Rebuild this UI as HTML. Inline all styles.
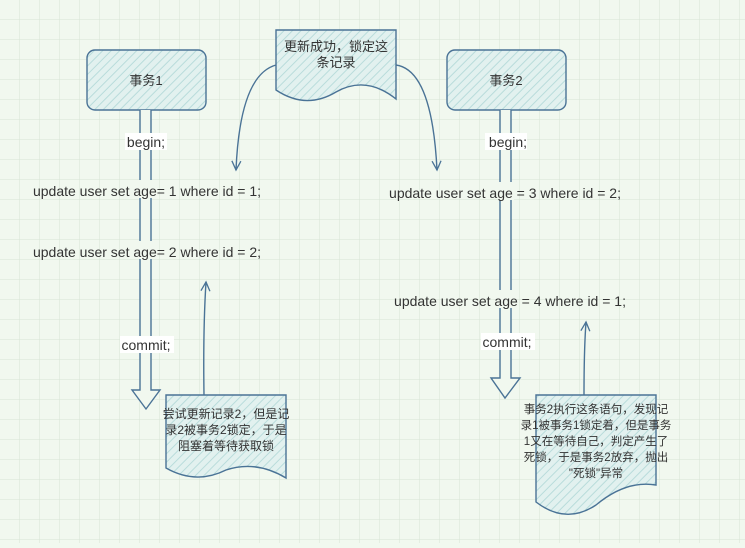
<!DOCTYPE html>
<html><head><meta charset="utf-8"><style>
html,body{margin:0;padding:0}
body{width:745px;height:543px;overflow:hidden;background:#f1f8ef;font-family:"Liberation Sans","Noto Sans CJK SC",sans-serif}
</style></head><body>
<svg width="745" height="543" viewBox="0 0 745 543" xmlns="http://www.w3.org/2000/svg" font-family="Liberation Sans, Noto Sans CJK SC, sans-serif">
<defs>
<pattern id="g" width="20" height="20" patternUnits="userSpaceOnUse">
<path d="M20 0V20M0 20H20" stroke="#d8e4d6" stroke-width="1" fill="none"/>
</pattern>
<pattern id="h" width="6" height="6" patternUnits="userSpaceOnUse" patternTransform="rotate(45)">
<rect width="6" height="6" fill="#e2f1ef"/>
<line x1="0" y1="0" x2="0" y2="6" stroke="#b9dcdb" stroke-width="2"/>
</pattern>
<marker id="a" markerWidth="12" markerHeight="12" refX="10" refY="6" orient="auto" markerUnits="userSpaceOnUse">
<path d="M1 1.5 L10 6 L1 10.5" fill="none" stroke="#4a7396" stroke-width="1.3"/>
</marker>
</defs>
<rect width="745" height="543" fill="url(#g)"/>
<g stroke="#4a7396" stroke-width="1.4">
<rect x="87" y="50" width="119" height="60" rx="8" fill="url(#h)"/>
<rect x="447" y="50" width="119" height="60" rx="8" fill="url(#h)"/>
<path d="M276 30H396V99Q366 75 336 92Q306 110 276 90Z" fill="url(#h)"/>
<path d="M166 395H286V478Q256 460 226 470Q196 485 166 468Z" fill="url(#h)"/>
<path d="M536 395H656V485Q626 480 596 505Q566 525 536 502Z" fill="url(#h)"/>
<path d="M140 110V390H132L146 409L160 390H151V110" fill="#f1f8ef"/>
<path d="M500 110V378H491L505 398L520 378H511V110" fill="#f1f8ef"/>
<path d="M276 65Q240 75 236 170" fill="none" marker-end="url(#a)"/>
<path d="M396 65Q432 70 437 170" fill="none" marker-end="url(#a)"/>
<path d="M204 395Q203 330 206 282" fill="none" marker-end="url(#a)"/>
<path d="M584 395Q584 350 586 322" fill="none" marker-end="url(#a)"/>
</g>
<g font-size="13" fill="#333" text-anchor="middle">
<text x="146" y="85">事务1</text>
<text x="506" y="85">事务2</text>
<text x="336" y="51">更新成功，锁定这</text>
<text x="336" y="67">条记录</text>
<g font-size="12">
<text x="226" y="418">尝试更新记录2，但是记</text>
<text x="226" y="434">录2被事务2锁定，于是</text>
<text x="226" y="450">阻塞着等待获取锁</text>
</g>
<g font-size="11.5">
<text x="596" y="413">事务2执行这条语句，发现记</text>
<text x="596" y="429">录1被事务1锁定着，但是事务</text>
<text x="596" y="445">1又在等待自己，判定产生了</text>
<text x="596" y="461">死锁，于是事务2放弃，抛出</text>
<text x="596" y="477">"死锁"异常</text>
</g>
</g>
<g fill="#f1f8ef">
<rect x="138" y="180" width="16" height="18"/>
<rect x="138" y="241" width="16" height="18"/>
<rect x="498" y="182" width="16" height="18"/>
<rect x="498" y="290" width="16" height="18"/>
</g>
<g font-size="14" fill="#333" text-anchor="middle">
<rect x="125" y="133" width="42" height="17" fill="#fff"/><text x="146" y="147">begin;</text>
<rect x="485" y="133" width="42" height="17" fill="#fff"/><text x="508" y="147">begin;</text>
<rect x="120" y="336" width="54" height="17" fill="#fff"/><text x="146" y="350">commit;</text>
<rect x="481" y="333" width="54" height="17" fill="#fff"/><text x="507" y="347">commit;</text>
<text x="147" y="196">update user set age= 1 where id = 1;</text>
<text x="147" y="257">update user set age= 2 where id = 2;</text>
<text x="505" y="198">update user set age = 3 where id = 2;</text>
<text x="510" y="306">update user set age = 4 where id = 1;</text>
</g>
</svg>
</body></html>
